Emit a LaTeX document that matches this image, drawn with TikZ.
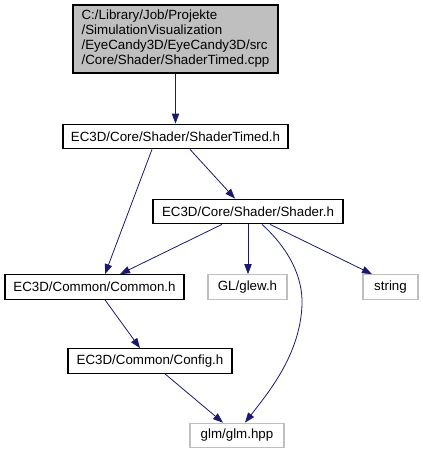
\documentclass[tikz,border=0pt]{standalone}
\usepackage{fontspec}
\setmainfont{Liberation Sans}
\usetikzlibrary{arrows.meta, calc}
\definecolor{edgeblue}{HTML}{191970}
\definecolor{nodegrey}{HTML}{BFBFBF}

\begin{document}
\begin{tikzpicture}[
			x=0.75pt, y=-0.75pt,
			font=\fontsize{10}{11.25}\selectfont,
			file/.style={draw=black, fill=white, thick, inner sep=0pt,
				minimum height=18.5pt, anchor=center},
			sysfile/.style={file, draw=nodegrey},
			dep/.style={-{Triangle[length=7.5pt, width=5.5pt]}, edgeblue, semithick}
			]
			\useasboundingbox (0,0) rectangle (423,455);

			\node[file, fill=nodegrey, minimum width=153.75pt, minimum height=51pt, align=left] (cpp) at (175.5,39)
			{C:/Library/Job/Projekte\\/SimulationVisualization\\/EyeCandy3D/EyeCandy3D/src\\/Core/Shader/ShaderTimed.cpp};
			\node[file, minimum width=168.75pt] (timed) at (175.5,136.5) {EC3D/Core/Shader/ShaderTimed.h};
			\node[file, minimum width=142.5pt] (shader) at (248,211.5) {EC3D/Core/Shader/Shader.h};
			\node[file, minimum width=134.25pt] (common) at (94.5,287) {EC3D/Common/Common.h};
			\node[sysfile, minimum width=59.25pt] (glew) at (247.5,287) {GL/glew.h};
			\node[sysfile, minimum width=41.25pt] (string) at (390.5,287) {string};
			\node[file, minimum width=123pt] (config) at (150,361) {EC3D/Common/Config.h};
			\node[sysfile, minimum width=70.5pt] (glm) at (237,435.5) {glm/glm.hpp};

			\draw[dep] (cpp) -- (timed);
			\draw[dep] ($(timed.south)+(-23.5,0)$) -- ($(common.north)+(10.5,0)$);
			\draw[dep] ($(timed.south)+(14.5,0)$) -- ($(shader.north)+(-13,0)$);
			\draw[dep] ($(shader.south)+(-26,0)$) -- ($(common.north)+(25.5,0)$);
			\draw[dep] (shader.south) -- (shader.south |- glew.north);
			\draw[dep] ($(shader.south)+(14,0)$) .. controls (290,250) and (303,278) .. (302,305)
				.. controls (300,355) and (268,393) .. ($(glm.north)+(8,0)$);
			\draw[dep] ($(shader.south)+(22,0)$) -- ($(string.north)+(-18.5,0)$);
			\draw[dep] ($(common.south)+(10.5,0)$) -- ($(config.north)+(-10,0)$);
			\draw[dep] ($(config.south)+(15,0)$) -- ($(glm.north)+(-14,0)$);

		\end{tikzpicture}
\end{document}
